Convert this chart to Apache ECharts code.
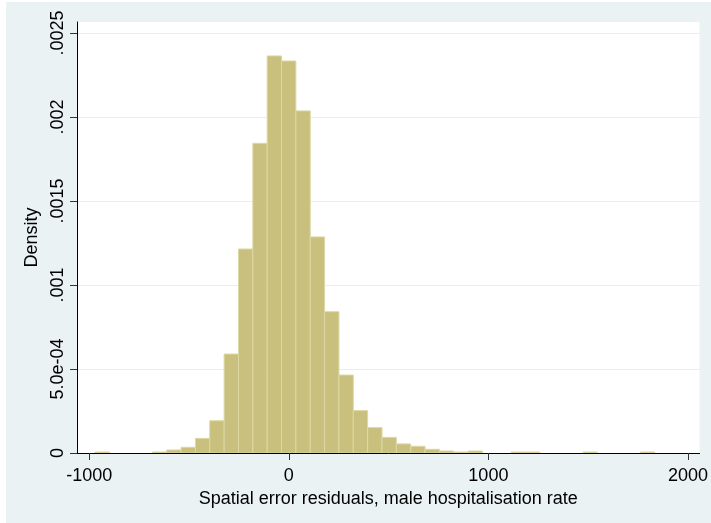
<!DOCTYPE html>
<html>
<head>
<meta charset="utf-8">
<script src="https://cdn.jsdelivr.net/npm/echarts@6/dist/echarts.min.js"></script>
<style>
  html, body { margin: 0; padding: 0; background: #fff; }
  #chart { width: 711px; height: 523px; }
</style>
</head>
<body>
<div id="chart"></div>
<script>
// Histogram of spatial error residuals (density scale)
const binStart = -971;      // left edge of the first bin
const binWidth = 71.9;      // width of every bin
const density = [
  0.000006, 0, 0, 0, 0.000006, 0.000018, 0.000034, 0.000087, 0.000192, 0.000589,
  0.001214, 0.001843, 0.002363, 0.002333, 0.002036, 0.001286, 0.000841, 0.000464, 0.000252, 0.000151,
  0.000093, 0.000054, 0.000040, 0.000022, 0.000012, 0.000006, 0.000012, 0, 0, 0.000006,
  0.000006, 0, 0, 0, 0.000006, 0, 0, 0, 0.000006
];
const xTicks = [-1000, 0, 1000, 2000];
const yTicks = [0, 0.0005, 0.001, 0.0015, 0.002, 0.0025];
const yTickLabels = ['0', '5.0e-04', '.001', '.0015', '.002', '.0025'];
const xTitle = 'Spatial error residuals, male hospitalisation rate';
const yTitle = 'Density';

const bins = density.map((d, i) => [binStart + i * binWidth, binStart + (i + 1) * binWidth, d])
  .filter(b => b[2] > 0);

const FONT = '"Liberation Sans", Arial, sans-serif';
const FS = 18;
const chart = echarts.init(document.getElementById('chart'), null, { renderer: 'canvas' });

chart.setOption({
  backgroundColor: '#EAF2F3',
  animation: false,
  graphic: [
    { type: 'rect', shape: { x: 0, y: 0, width: 6, height: 523 }, style: { fill: '#fff' }, silent: true },
    { type: 'rect', shape: { x: 0, y: 0, width: 711, height: 2 }, style: { fill: '#fff' }, silent: true }
  ],
  grid: {
    left: 77, right: 6, top: 22, bottom: 70,
    show: true, backgroundColor: '#fff', borderWidth: 0
  },
  xAxis: {
    type: 'value',
    min: -1061, max: 2058,
    name: xTitle,
    nameLocation: 'middle',
    nameGap: 29,
    nameTextStyle: { fontFamily: FONT, fontSize: FS, color: '#000' },
    axisLine: { show: true, onZero: false, lineStyle: { color: '#000', width: 1 } },
    axisTick: { show: true, length: 7, customValues: xTicks, lineStyle: { color: '#333' } },
    axisLabel: {
      customValues: xTicks, margin: 14,
      fontFamily: FONT, fontSize: FS, color: '#000',
      formatter: v => String(Math.round(v))
    },
    splitLine: { show: false }
  },
  yAxis: {
    type: 'value',
    min: 0, max: 0.002565,
    interval: 0.0005,
    name: yTitle,
    nameLocation: 'middle',
    nameGap: 30,
    nameTextStyle: { fontFamily: FONT, fontSize: FS, color: '#000' },
    axisLine: { show: true, onZero: false, lineStyle: { color: '#000', width: 1 } },
    axisTick: { show: true, length: 7, customValues: yTicks, lineStyle: { color: '#333' } },
    axisLabel: {
      customValues: yTicks, rotate: 90, margin: 10,
      fontFamily: FONT, fontSize: FS, color: '#000',
      formatter: v => {
        const i = yTicks.findIndex(t => Math.abs(t - v) < 1e-9);
        return i >= 0 ? yTickLabels[i] : '';
      }
    },
    splitLine: { show: true, lineStyle: { color: '#E6EEF0', width: 1 } }
  },
  series: [{
    type: 'custom',
    clip: true,
    data: bins,
    encode: { x: [0, 1], y: 2 },
    renderItem: (params, api) => {
      const top = api.coord([api.value(0), api.value(2)]);
      const base = api.coord([api.value(1), 0]);
      return {
        type: 'rect',
        shape: { x: top[0], y: top[1], width: base[0] - top[0], height: base[1] - top[1] },
        style: { fill: '#C8C07C', stroke: '#DDD7A4', lineWidth: 1 }
      };
    }
  }]
});
</script>
</body>
</html>
